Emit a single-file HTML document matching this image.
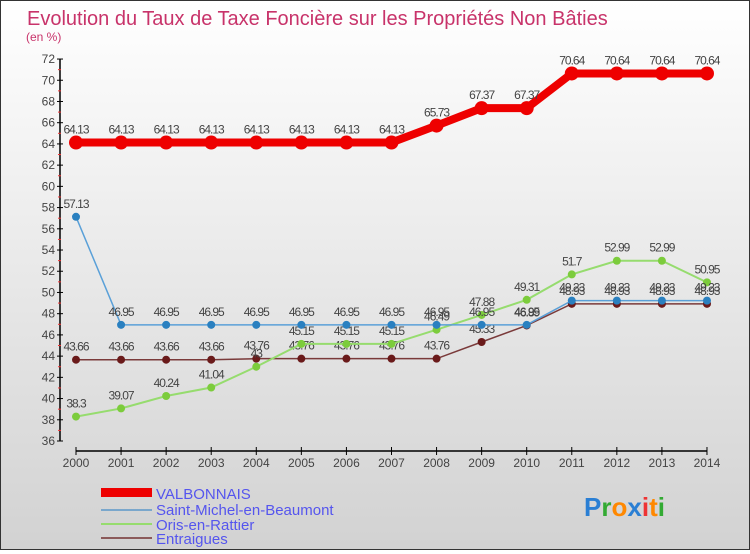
<!DOCTYPE html>
<html><head><meta charset="utf-8"><style>
body{margin:0;width:750px;height:550px;overflow:hidden;font-family:"Liberation Sans",sans-serif}
#wrap{position:relative;width:748px;height:548px;border:1px solid #333;background:linear-gradient(#fff,#d2d2d2)}
</style></head><body>
<div id="wrap">
<svg id="chart" width="748" height="548">
<text x="26" y="24" font-size="20" fill="#c8336a">Evolution du Taux de Taxe Foncière sur les Propriétés Non Bâties</text>
<text x="25" y="40" font-size="12" fill="#c8336a">(en %)</text>
<g id="axes"></g><g id="series"></g>
<g font-size="15" fill="#5555ee">
<rect x="100" y="487" width="51" height="9" fill="#e00"/>
<text x="155" y="498">VALBONNAIS</text>
<rect x="100" y="508" width="51" height="2" fill="#7aa7cc"/>
<text x="155" y="514">Saint-Michel-en-Beaumont</text>
<rect x="100" y="522" width="51" height="2" fill="#96dc6e"/>
<text x="155" y="529">Oris-en-Rattier</text>
<rect x="100" y="536" width="51" height="2" fill="#8b5a5a"/>
<text x="155" y="543">Entraigues</text>
</g>
<text x="583" y="515" font-size="26" font-weight="bold"><tspan fill="#2a7fd4">P</tspan><tspan fill="#3a3">r</tspan><tspan fill="#f80">o</tspan><tspan fill="#2a7fd4">x</tspan><tspan fill="#e33">i</tspan><tspan fill="#f80">t</tspan><tspan fill="#3a3">i</tspan></text>
</svg></div>
<script>
const years=[2000,2001,2002,2003,2004,2005,2006,2007,2008,2009,2010,2011,2012,2013,2014];
const valbonnais=[64.13,64.13,64.13,64.13,64.13,64.13,64.13,64.13,65.73,67.37,67.37,70.64,70.64,70.64,70.64];
const saintMichel=[57.13,46.95,46.95,46.95,46.95,46.95,46.95,46.95,46.95,46.95,46.95,49.23,49.23,49.23,49.23];
const oris=[38.3,39.07,40.24,41.04,43,45.15,45.15,45.15,46.49,47.88,49.31,51.7,52.99,52.99,50.95];
const entraigues=[43.66,43.66,43.66,43.66,43.76,43.76,43.76,43.76,43.76,45.33,46.89,48.93,48.93,48.93,48.93];
const yTicks=[36,38,40,42,44,46,48,50,52,54,56,58,60,62,64,66,68,70,72];
const NS="http://www.w3.org/2000/svg";
const X=i=>75+i*45.07, Y=v=>440-(v-36)*10.61;
function mk(t,a,p){const e=document.createElementNS(NS,t);for(const k in a)e.setAttribute(k,a[k]);p.appendChild(e);return e;}
const ax=document.getElementById('axes');
let l=mk('line',{x1:59,y1:Y(72),x2:59,y2:Y(36),stroke:'#000','stroke-width':1.5},ax);


yTicks.forEach(v=>{
 mk('line',{x1:56,y1:Y(v),x2:62,y2:Y(v),stroke:'#000'},ax);
 mk('line',{x1:57,y1:Y(v+1),x2:60,y2:Y(v+1),stroke:v<72?'#e33':'none'},ax);
 const t=mk('text',{x:54,y:Y(v)+4,'font-size':12,fill:'#444','text-anchor':'end'},ax);t.textContent=v;
 
 
});
l=mk('line',{x1:X(0),y1:450,x2:X(14),y2:450,stroke:'#000','stroke-width':1.5},ax);


years.forEach((y,i)=>{
 mk('line',{x1:X(i),y1:446,x2:X(i),y2:454,stroke:'#000'},ax);
 const t=mk('text',{x:X(i),y:466,'font-size':12,fill:'#444','text-anchor':'middle'},ax);t.textContent=y;
 
 
});
const sg=document.getElementById('series');
function draw(data,name,col,dot,w,r){
 const g=mk('g',{},sg);
 
 
 mk('polyline',{points:data.map((v,i)=>X(i)+','+Y(v)).join(' '),fill:'none',stroke:col,'stroke-width':w},g);
 data.forEach((v,i)=>{
  const c=mk('circle',{cx:X(i),cy:Y(v),r:r,fill:dot},g);
  
  
  const t=mk('text',{x:X(i),y:Y(v)-9,'font-size':12,fill:'#444','text-anchor':'middle','letter-spacing':'-1'},g);t.textContent=v;
 });
}
draw(entraigues,'entraigues','#7a3a3a','#6a1a1a',1.5,4);
draw(oris,'oris','#96dc6e','#7ccc3c',2,4);
draw(saintMichel,'saint-michel','#5aa0d8','#2a80c0',1.5,4);
draw(valbonnais,'valbonnais','#e00','#e00',8,7);
</script>
</body></html>
